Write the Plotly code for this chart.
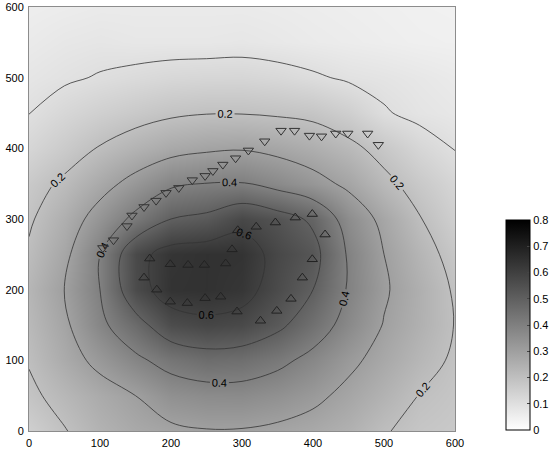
import plotly.graph_objects as go

# grid coordinates (data units)
x_grid = [0, 50, 100, 150, 200, 250, 300, 350, 400, 450, 500, 550, 600]
y_grid = [0, 50, 100, 150, 200, 250, 300, 350, 400, 450, 500, 550, 600]

# field values, one row per y (bottom to top)
z_y0 = [0.15, 0.196, 0.24, 0.27, 0.285, 0.296, 0.295, 0.285, 0.27, 0.245, 0.205, 0.18, 0.17]
z_y50 = [0.185, 0.225, 0.265, 0.30, 0.347, 0.362, 0.364, 0.346, 0.318, 0.28, 0.24, 0.198, 0.18]
z_y100 = [0.205, 0.265, 0.322, 0.382, 0.433, 0.46, 0.453, 0.422, 0.375, 0.318, 0.272, 0.227, 0.19]
z_y150 = [0.22, 0.285, 0.38, 0.465, 0.56, 0.582, 0.57, 0.52, 0.448, 0.368, 0.296, 0.246, 0.198]
z_y200 = [0.23, 0.302, 0.40, 0.565, 0.64, 0.645, 0.63, 0.564, 0.50, 0.392, 0.31, 0.25, 0.192]
z_y250 = [0.21, 0.28, 0.398, 0.57, 0.635, 0.645, 0.64, 0.575, 0.53, 0.39, 0.30, 0.232, 0.175]
z_y300 = [0.19, 0.254, 0.335, 0.422, 0.50, 0.521, 0.575, 0.54, 0.485, 0.358, 0.278, 0.204, 0.15]
z_y350 = [0.17, 0.213, 0.27, 0.328, 0.385, 0.402, 0.405, 0.369, 0.33, 0.283, 0.22, 0.17, 0.13]
z_y400 = [0.129, 0.165, 0.205, 0.24, 0.27, 0.287, 0.294, 0.278, 0.254, 0.22, 0.174, 0.128, 0.098]
z_y450 = [0.099, 0.127, 0.15, 0.17, 0.188, 0.197, 0.197, 0.191, 0.182, 0.152, 0.105, 0.085, 0.075]
z_y500 = [0.08, 0.092, 0.104, 0.115, 0.125, 0.129, 0.130, 0.122, 0.108, 0.092, 0.085, 0.075, 0.065]
z_y550 = [0.065, 0.075, 0.08, 0.075, 0.075, 0.075, 0.078, 0.072, 0.065, 0.06, 0.055, 0.05, 0.048]
z_y600 = [0.055, 0.06, 0.065, 0.065, 0.065, 0.065, 0.065, 0.062, 0.058, 0.054, 0.05, 0.046, 0.044]
z_rows = [z_y0, z_y50, z_y100, z_y150, z_y200, z_y250, z_y300, z_y350,
          z_y400, z_y450, z_y500, z_y550, z_y600]

# upward triangles (inner cluster)
up_x = [170, 199, 224, 247, 277, 286, 294, 320, 347, 375, 399, 417, 399, 385,
        369, 349, 326, 293, 270, 248, 223, 199, 180, 162]
up_y = [244, 236, 235, 235, 237, 257, 284, 289, 295, 302, 307, 278, 243, 217,
        187, 170, 156, 169, 190, 188, 181, 183, 200, 217]

# downward triangles (outer arc)
down_x = [104, 119, 138, 145, 162, 179, 193, 211, 230, 248, 259, 273, 291, 309,
          332, 355, 374, 395, 412, 432, 449, 477, 492]
down_y = [259, 270, 290, 305, 317, 326, 337, 344, 355, 361, 368, 377, 386, 397,
          410, 425, 425, 418, 417, 421, 421, 421, 405]

axis_ticks = [0, 100, 200, 300, 400, 500, 600]
cbar_ticks = [0, 0.1, 0.2, 0.3, 0.4, 0.5, 0.6, 0.7, 0.8]
cbar_labels = ["0", "0.1", "0.2", "0.3", "0.4", "0.5", "0.6", "0.7", "0.8"]

FONT = "Liberation Sans, Arial, sans-serif"

fig = go.Figure()

fig.add_trace(go.Heatmap(
    x=x_grid, y=y_grid, z=z_rows, zsmooth="best",
    colorscale=[[0, "#ffffff"], [1, "#000000"]], zmin=0, zmax=0.8,
    hoverinfo="skip",
    colorbar=dict(
        thickness=24, thicknessmode="pixels",
        len=210, lenmode="pixels",
        x=1.12, xanchor="left", y=0.25, yanchor="middle",
        xpad=0, ypad=0,
        outlinecolor="#000000", outlinewidth=1,
        tickvals=cbar_ticks, ticktext=cbar_labels,
        ticks="inside", ticklen=3, tickcolor="#444444",
        tickfont=dict(family=FONT, size=11, color="#000000"),
    ),
))

# odd levels: unlabeled lines
fig.add_trace(go.Contour(
    x=x_grid, y=y_grid, z=z_rows, showscale=False, hoverinfo="skip",
    contours=dict(start=0.1, end=0.5, size=0.2, coloring="none", showlabels=False),
    line=dict(color="#333333", width=0.8, smoothing=1.0),
))

# even levels: labeled lines (extra empty levels outside the data range only
# make plotly space the labels more densely along each line)
fig.add_trace(go.Contour(
    x=x_grid, y=y_grid, z=z_rows, showscale=False, hoverinfo="skip",
    contours=dict(start=-5.8, end=6.0, size=0.2, coloring="none", showlabels=True,
                  labelfont=dict(family=FONT, size=11, color="#000000"),
                  labelformat=".1f"),
    line=dict(color="#333333", width=0.8, smoothing=1.0),
))

fig.add_trace(go.Scatter(
    x=up_x, y=up_y, mode="markers", hoverinfo="skip",
    marker=dict(symbol="triangle-up-open", size=9, color="#222222",
                line=dict(width=1, color="#222222")),
))
fig.add_trace(go.Scatter(
    x=down_x, y=down_y, mode="markers", hoverinfo="skip",
    marker=dict(symbol="triangle-down-open", size=9, color="#333333",
                line=dict(width=1, color="#333333")),
))

axis_common = dict(
    range=[0, 600], tickvals=axis_ticks, showgrid=False, zeroline=False,
    showline=True, mirror=True, linecolor="#8c8c8c", linewidth=1,
    ticks="", automargin=False,
    tickfont=dict(family=FONT, size=11, color="#000000"),
)
fig.update_layout(
    width=553, height=449,
    margin=dict(l=29, r=98, t=7, b=18, autoexpand=False),
    paper_bgcolor="#ffffff", plot_bgcolor="#ffffff",
    showlegend=False,
    xaxis=dict(**axis_common, ticklabelstandoff=2),
    yaxis=dict(**axis_common, ticklabelstandoff=2),
)

fig.write_html("out.html", config={"displayModeBar": False},
               post_script="document.body.style.margin='0';")
